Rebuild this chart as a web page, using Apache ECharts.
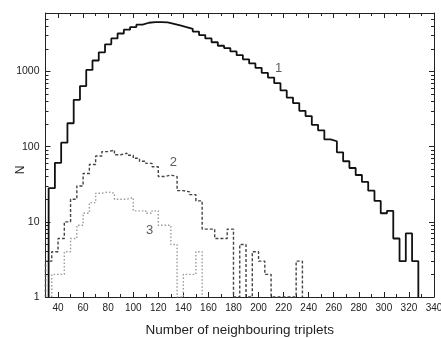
<!DOCTYPE html>
<html>
<head>
<meta charset="utf-8">
<script src="https://cdn.jsdelivr.net/npm/echarts@6/dist/echarts.min.js"></script>
<style>
  html, body { margin: 0; padding: 0; background: #fff; }
  #chart { width: 441px; height: 338px; }
</style>
</head>
<body>
<div id="chart"></div>
<script>
// Histograms of the number of neighbouring triplets (bin width 5)
const BIN_WIDTH = 5;

// Curve 1: left edge of the first bin and counts per bin
const set1FirstEdge = 32.5;
const set1Counts = [
  28, 61, 113, 205, 420, 640, 1050, 1400, 1800, 2300,
  2750, 3200, 3600, 3900, 4200, 4450, 4550, 4550, 4500, 4300,
  4100, 3900, 3700, 3400, 3050, 2750, 2450, 2200, 2050, 1850,
  1650, 1450, 1280, 1120, 960, 830, 700, 560, 450, 380,
  300, 255, 195, 165, 125, 118, 84, 64, 52, 42,
  34, 26, 19, 13, 14, 6, 3, 7, 3
];

// Curve 2
const set2FirstEdge = 30;
const set2Counts = [
  3, 4, 6, 10, 20, 30, 44, 58, 75, 86,
  90, 78, 82, 77, 70, 64, 60, 54, 40, 42,
  40, 26, 25, 23, 19, 8, 8, 6, 6, 8,
  0, 5, 0, 4, 3, 2, 0, 0, 0, 0,
  3
];

// Curve 3
const set3FirstEdge = 35;
const set3Counts = [
  2, 2, 4, 6, 9, 13, 18, 24, 25, 24,
  20, 20, 21, 14, 14, 13, 14, 9, 9, 5,
  0, 2, 2, 4
];

// Axis ticks
const xMajorTicks = [40, 60, 80, 100, 120, 140, 160, 180, 200, 220, 240, 260, 280, 300, 320, 340];
const xMinorTicks = [30, 50, 70, 90, 110, 130, 150, 170, 190, 210, 230, 250, 270, 290, 310, 330];
const yMajorTicks = [1, 10, 100, 1000];
const yMinorTicks = [2, 3, 4, 5, 6, 7, 8, 9, 20, 30, 40, 50, 60, 70, 80, 90,
  200, 300, 400, 500, 600, 700, 800, 900, 2000, 3000, 4000, 5000];

// Curve numbers written next to each histogram: [x, N, text]
const curveTags = [
  [216, 1090, '1'],
  [132, 62, '2'],
  [113, 7.7, '3']
];

const X_MIN = 30, X_MAX = 340, Y_MIN = 1, Y_MAX = 6000;
const FONT = "'Liberation Sans', Arial, Helvetica, sans-serif";
const INK = '#222';

// Outline of a histogram as a step path; empty bins sit on the bottom axis
function stepPoints(firstEdge, counts) {
  const level = c => (c > 0 ? c : Y_MIN);
  const pts = [[firstEdge, Y_MIN]];
  counts.forEach((c, i) => pts.push([firstEdge + i * BIN_WIDTH, level(c)]));
  const end = firstEdge + counts.length * BIN_WIDTH;
  pts.push([end, level(counts[counts.length - 1])]);
  pts.push([end, Y_MIN]);
  return pts;
}

function xAxisDef(position, ticks, len, withLine, withLabels) {
  return {
    type: 'value', position, min: X_MIN, max: X_MAX,
    axisLine: { show: withLine, onZero: false, lineStyle: { color: INK, width: 1 } },
    axisTick: { show: true, inside: true, length: len, customValues: ticks, lineStyle: { color: INK, width: 1 } },
    axisLabel: withLabels
      ? { show: true, customValues: ticks, fontSize: 10, color: INK, fontFamily: FONT, margin: 6,
          formatter: v => String(v) }
      : { show: false },
    splitLine: { show: false }
  };
}

function yAxisDef(position, ticks, len, withLine, withLabels) {
  return {
    type: 'log', logBase: 10, position, min: Y_MIN, max: Y_MAX,
    axisLine: { show: withLine, onZero: false, lineStyle: { color: INK, width: 1 } },
    axisTick: { show: true, inside: true, length: len, customValues: ticks, lineStyle: { color: INK, width: 1 } },
    axisLabel: withLabels
      ? { show: true, customValues: ticks, fontSize: 10.5, color: INK, fontFamily: FONT, margin: 6,
          formatter: v => String(Math.round(v)) }
      : { show: false },
    splitLine: { show: false },
    minorTick: { show: false }
  };
}

const xMain = xAxisDef('bottom', xMajorTicks, 5, true, true);
xMain.name = 'Number of neighbouring triplets';
xMain.nameLocation = 'middle';
xMain.nameGap = 26;
xMain.nameMoveOverlap = false;
xMain.nameTextStyle = { fontSize: 13.5, color: INK, fontFamily: FONT };

const yMain = yAxisDef('left', yMajorTicks, 5, true, true);
yMain.name = 'N';
yMain.nameLocation = 'middle';
yMain.nameGap = 19;
yMain.nameRotate = 90;
yMain.nameMoveOverlap = false;
yMain.nameTextStyle = { fontSize: 12, color: INK, fontFamily: FONT, padding: [0, 30, 0, 0] };

const chart = echarts.init(document.getElementById('chart'), null, { renderer: 'canvas' });
chart.setOption({
  animation: false,
  backgroundColor: '#fff',
  grid: { left: 45.5, right: 7, top: 13, bottom: 41, outerBoundsMode: 'none', containLabel: false },
  xAxis: [
    xMain,
    xAxisDef('bottom', xMinorTicks, 3, false, false),
    xAxisDef('top', xMajorTicks, 5, true, false),
    xAxisDef('top', xMinorTicks, 3, false, false)
  ],
  yAxis: [
    yMain,
    yAxisDef('left', yMinorTicks, 3, false, false),
    yAxisDef('right', yMajorTicks, 5, true, false),
    yAxisDef('right', yMinorTicks, 3, false, false)
  ],
  series: [
    {
      name: '1', type: 'line', step: 'end', symbol: 'none',
      data: stepPoints(set1FirstEdge, set1Counts),
      lineStyle: { color: '#111', width: 1.8 }, z: 5
    },
    {
      name: '2', type: 'line', step: 'end', symbol: 'none',
      data: stepPoints(set2FirstEdge, set2Counts),
      lineStyle: { color: '#444', width: 1.4, type: [3, 2] }, z: 4
    },
    {
      name: '3', type: 'line', step: 'end', symbol: 'none',
      data: stepPoints(set3FirstEdge, set3Counts),
      lineStyle: { color: '#9a9a9a', width: 1.4, type: [1.5, 2] }, z: 3
    },
    {
      name: 'tags', type: 'scatter', symbolSize: 1,
      itemStyle: { color: 'rgba(0,0,0,0)' },
      data: curveTags,
      label: {
        show: true, position: 'inside', formatter: p => p.value[2],
        fontSize: 13, color: '#333', fontFamily: FONT
      },
      silent: true, z: 6
    }
  ]
});
</script>
</body>
</html>
